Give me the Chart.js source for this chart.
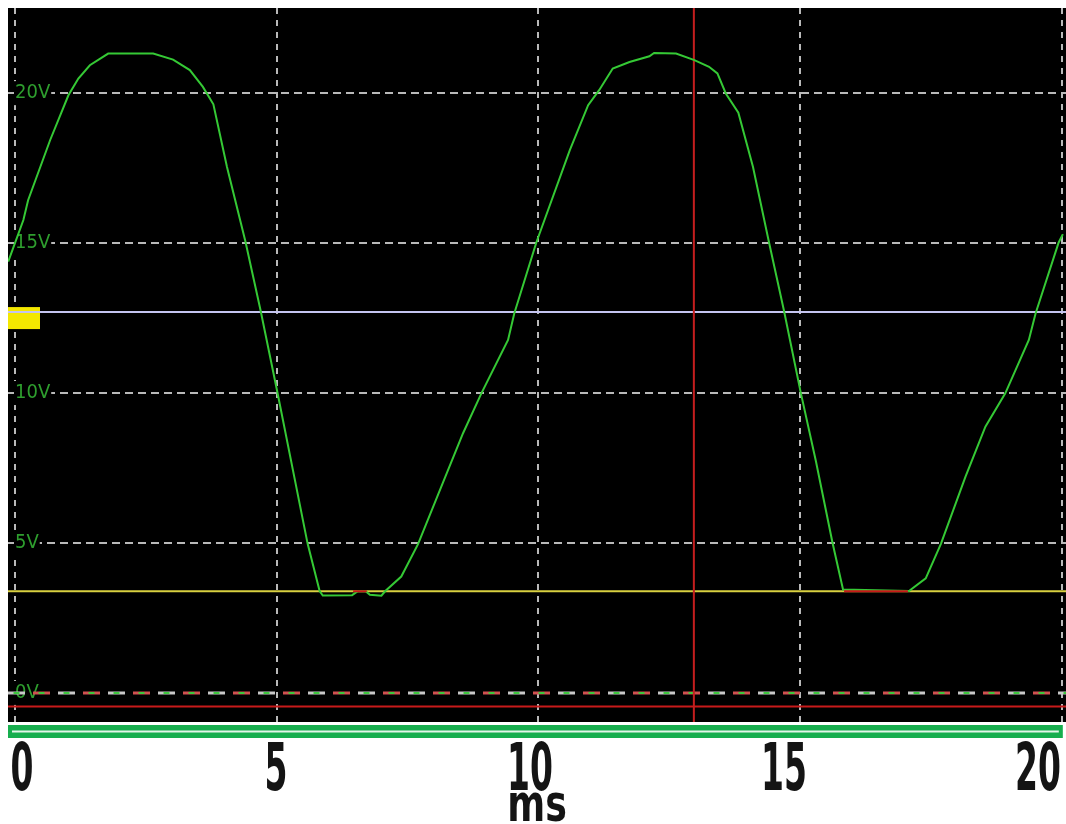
<!DOCTYPE html>
<html>
<head>
<meta charset="utf-8">
<script src="https://cdn.jsdelivr.net/npm/chart.js@4"></script>
<style>
  html, body { margin: 0; padding: 0; background: #fff; }
  #wrap { width: 1066px; height: 824px; position: relative; }
</style>
</head>
<body>
<div id="wrap"><canvas id="scope"></canvas></div>
<script>
// channel A trace (ms / volts)
const timeMs = [-0.13, 0.16, 0.25, 0.67, 1.02, 1.21, 1.43, 1.78, 2.64, 3.02, 3.34, 3.59, 3.79, 4.05, 4.40, 4.69, 5.01, 5.59, 5.82, 5.88, 6.44, 6.55, 6.70, 6.78, 7.00, 7.07, 7.38, 7.70, 8.17, 8.56, 8.91, 9.42, 9.54, 9.96, 10.60, 10.95, 11.16, 11.42, 11.74, 12.12, 12.21, 12.63, 12.98, 13.26, 13.42, 13.58, 13.82, 14.10, 14.40, 14.69, 15.01, 15.30, 15.62, 15.82, 17.08, 17.40, 17.69, 18.16, 18.54, 18.92, 19.37, 19.50, 19.94, 20.02];
const voltsA = [14.38, 15.77, 16.43, 18.43, 19.93, 20.49, 20.93, 21.32, 21.32, 21.12, 20.77, 20.21, 19.63, 17.54, 15.07, 12.77, 10.05, 4.98, 3.40, 3.25, 3.26, 3.39, 3.39, 3.27, 3.24, 3.39, 3.88, 4.96, 6.99, 8.66, 9.99, 11.77, 12.66, 15.02, 18.10, 19.60, 20.10, 20.82, 21.04, 21.23, 21.34, 21.32, 21.10, 20.88, 20.66, 19.99, 19.35, 17.54, 15.07, 12.76, 10.03, 7.74, 5.00, 3.45, 3.40, 3.82, 4.97, 7.21, 8.88, 9.99, 11.77, 12.66, 15.02, 15.30];

// red bits where the trace sits on the reference line
const redStart = [6.46, 15.84];
const redEnd = [6.72, 17.06];
const redLevel = 3.39;

const refLevel = 3.39;       // yellow line
const triggerLevel = 12.7;   // lavender line + yellow marker
const cursorMs = 12.97;      // red vertical cursor
const baseLevel = -0.45;     // red line under 0V

const xRange = [-0.134, 20.08];
const yRange = [-0.97, 22.84];
const xTicks = [0, 5, 10, 15, 20];
const xTickLabels = ['0', '5', '10', '15', '20'];
const yTicks = [0, 5, 10, 15, 20];
const yTickLabels = ['0V', '5V', '10V', '15V', '20V'];
const labelRange = [-0.276, 20.55];
const xTitle = 'ms';

const traceA = timeMs.map((t, i) => ({ x: t, y: voltsA[i] }));
const redBits = [];
redStart.forEach((s, i) => {
    redBits.push({ x: s, y: redLevel }, { x: redEnd[i], y: redLevel }, { x: redEnd[i], y: null });
});
const flat = v => xRange.map(x => ({ x: x, y: v }));

const gridGrey = '#b9b9b9';

// no extra room for edge labels, the screen fills the padding box
const noPad = s => { s.paddingTop = 0; s.paddingBottom = 0; s.paddingLeft = 0; s.paddingRight = 0; };

const scopeDecor = {
    id: 'scopeDecor',
    beforeDraw(chart) {
        const { ctx, chartArea: a } = chart;
        ctx.save();
        ctx.fillStyle = '#fff';
        ctx.fillRect(0, 0, chart.width, chart.height);
        ctx.fillStyle = '#000';
        ctx.fillRect(a.left, a.top, a.right - a.left, a.bottom - a.top);
        ctx.restore();
    },
    beforeDatasetsDraw(chart) {
        const { ctx, chartArea: a, scales } = chart;
        const py = scales.y.getPixelForValue(triggerLevel);
        ctx.save();
        ctx.fillStyle = '#f4e800';
        ctx.fillRect(a.left, py - 5, 32, 22);
        ctx.restore();
    },
    afterDraw(chart) {
        const { ctx, chartArea: a, scales } = chart;
        const right = scales.x.getPixelForValue(20) + 1;
        ctx.save();
        // green time bar under the screen
        ctx.fillStyle = '#17ae4e';
        ctx.fillRect(a.left, a.bottom + 3, right - a.left, 13);
        ctx.fillStyle = '#e4f6e9';
        ctx.fillRect(a.left + 4, a.bottom + 8.5, right - a.left - 8, 2);

        // condensed time labels
        ctx.fillStyle = '#141414';
        ctx.textAlign = 'center';
        ctx.textBaseline = 'alphabetic';
        ctx.font = 'bold 66px "DejaVu Sans"';
        xTicks.forEach((v, i) => {
            const px = scales.xl.getPixelForValue(v);
            ctx.save();
            ctx.translate(px, 790);
            ctx.scale(0.5, 1);
            ctx.fillText(xTickLabels[i], 0, 0);
            ctx.restore();
        });
        ctx.font = 'bold 52px "DejaVu Sans"';
        ctx.translate((a.left + a.right) / 2, 821);
        ctx.scale(0.7, 1);
        ctx.fillText(xTitle, 0, 0);
        ctx.restore();
    }
};

new Chart(document.getElementById('scope'), {
    type: 'line',
    data: {
        datasets: [
            { data: redBits, borderColor: '#c81818', borderWidth: 2, spanGaps: false },
            { data: traceA, borderColor: '#35c935', borderWidth: 2 },
            { data: [{ x: cursorMs, y: yRange[0] }, { x: cursorMs, y: yRange[1] }], borderColor: '#c41e1e', borderWidth: 2 },
            { data: flat(triggerLevel), borderColor: '#c4c4f0', borderWidth: 2 },
            { data: flat(refLevel), borderColor: '#d8d040', borderWidth: 2 },
            { data: flat(0), borderColor: '#3ec83e', borderWidth: 2, borderDash: [6, 19], borderDashOffset: -5.5 },
            { data: flat(0), borderColor: '#d05050', borderWidth: 3, borderDash: [17, 33], borderDashOffset: -25 },
            { data: flat(0), borderColor: '#c8c8c8', borderWidth: 3, borderDash: [17, 33] },
            { data: flat(baseLevel), borderColor: '#c81a1a', borderWidth: 2 }
        ]
    },
    options: {
        responsive: true,
        maintainAspectRatio: false,
        animation: false,
        layout: { padding: { top: 8, left: 8, right: 0, bottom: 102 } },
        elements: { point: { radius: 0 }, line: { tension: 0 } },
        plugins: { legend: { display: false }, tooltip: { enabled: false } },
        scales: {
            x: {
                type: 'linear',
                min: xRange[0],
                max: xRange[1],
                afterBuildTicks: s => { s.ticks = xTicks.map(v => ({ value: v })); },
                afterFit: s => { s.height = 0; noPad(s); },
                ticks: { display: false },
                grid: { color: gridGrey, lineWidth: 2, drawTicks: false },
                border: { display: false, dash: [6, 6] }
            },
            xl: {
                type: 'linear',
                display: false,
                position: 'bottom',
                min: labelRange[0],
                max: labelRange[1],
                afterFit: s => { s.height = 0; noPad(s); }
            },
            y: {
                min: yRange[0],
                max: yRange[1],
                afterBuildTicks: s => { s.ticks = yTicks.map(v => ({ value: v })); },
                afterFit: s => { s.width = 0; noPad(s); },
                ticks: {
                    mirror: true,
                    padding: 7,
                    color: '#2e9e2e',
                    font: { family: '"Liberation Sans Narrow", "DejaVu Sans Condensed", sans-serif', size: 20 },
                    callback: (v) => yTickLabels[yTicks.indexOf(v)],
                    showLabelBackdrop: true,
                    backdropColor: '#000',
                    backdropPadding: { left: 1, right: 1, top: 0, bottom: 0 }
                },
                grid: {
                    color: c => (c.tick && c.tick.value === 0) ? 'rgba(0,0,0,0)' : gridGrey,
                    lineWidth: 2,
                    drawTicks: false
                },
                border: { display: false, dash: [8, 5] }
            }
        }
    },
    plugins: [scopeDecor]
});
</script>
</body>
</html>
